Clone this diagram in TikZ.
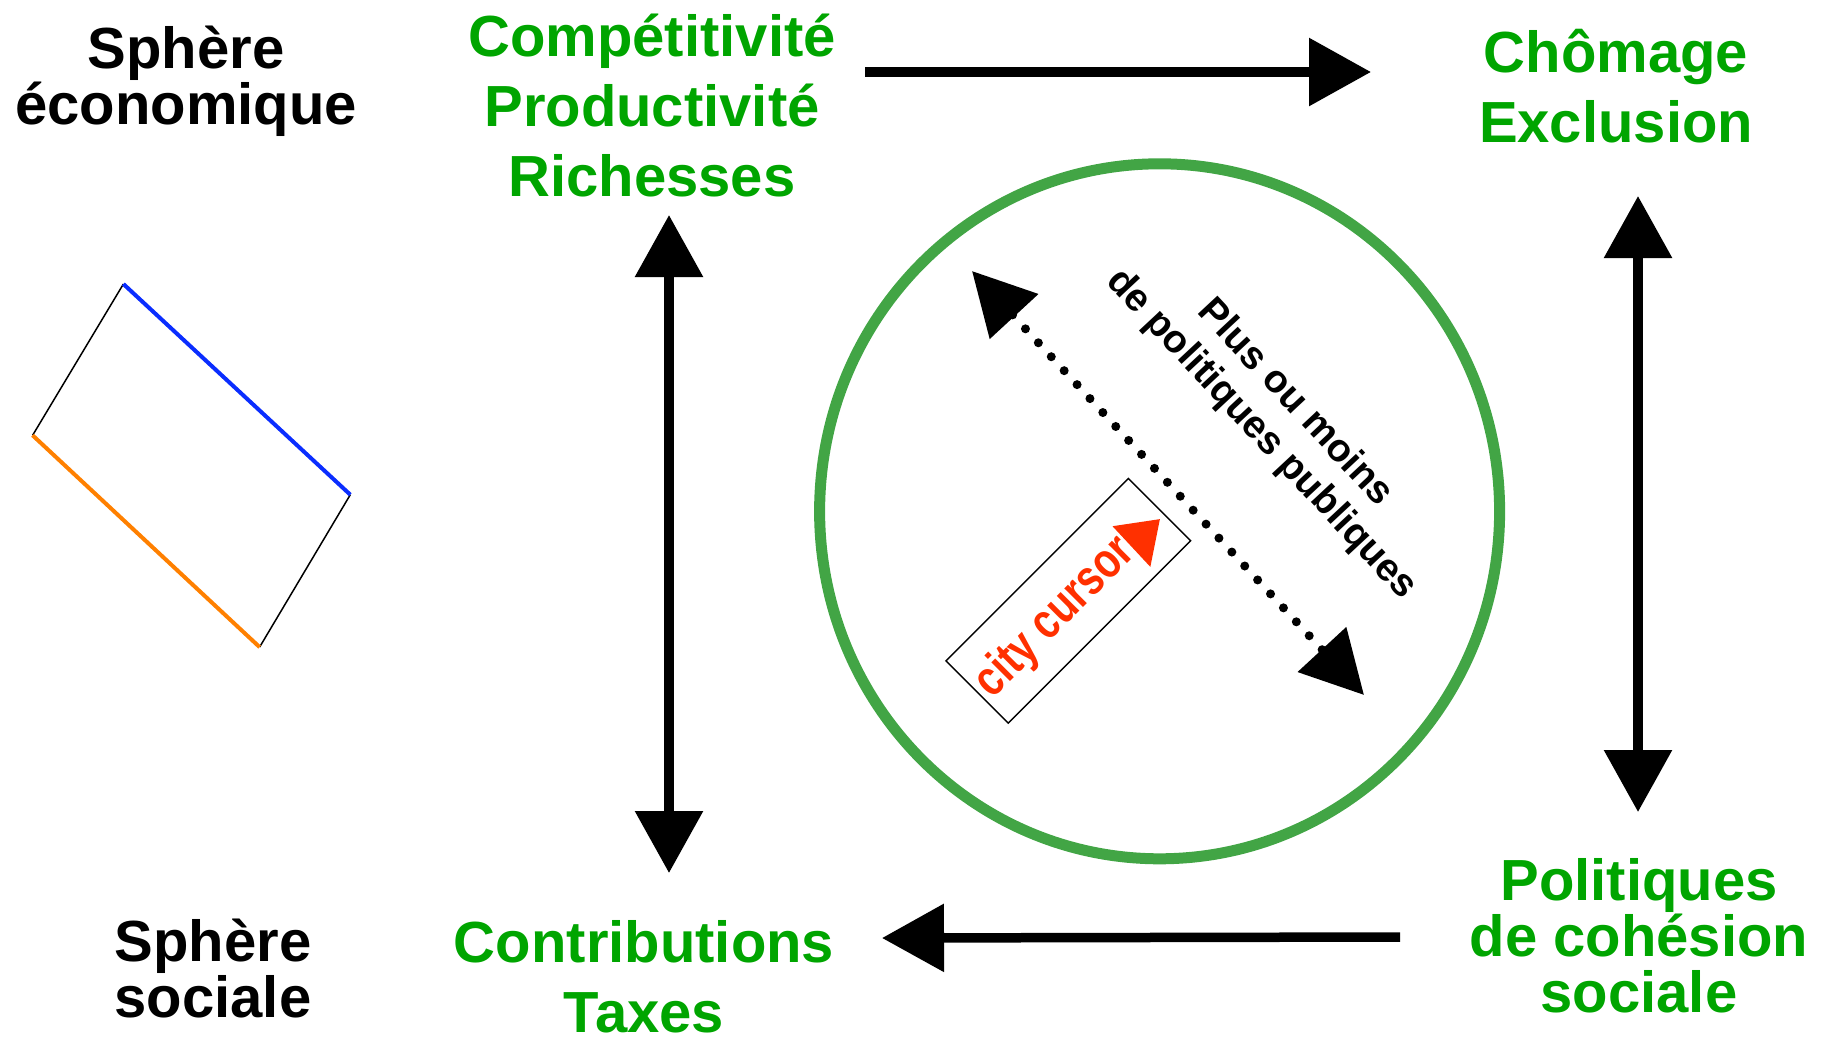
\documentclass[tikz,border=0pt]{standalone}
\usepackage{fontspec}
\setmainfont{Liberation Sans}
\newfontfamily\narrowsans[FakeStretch=0.8]{Liberation Sans}
\usetikzlibrary{arrows.meta,calc}
\definecolor{tgreen}{RGB}{0,165,0}
\definecolor{cgreen}{RGB}{66,165,69}
\definecolor{lblue}{RGB}{10,45,255}
\definecolor{lorange}{RGB}{255,128,0}
\definecolor{cred}{RGB}{255,48,0}
\begin{document}
\begin{tikzpicture}[x=1pt,y=-1pt,
  big/.style={font=\bfseries\fontsize{58}{70}\selectfont, align=center, inner sep=0pt},
  tight/.style={font=\bfseries\fontsize{58}{56}\selectfont},
  gtext/.style={big, text=tgreen},
  btext/.style={big, text=black},
  conn/.style={line width=9.5pt, -{Triangle[length=62pt,width=66pt]}},
  biconn/.style={line width=9.5pt, {Triangle[length=62pt,width=66pt]}-{Triangle[length=62pt,width=66pt]}},
  dotconn/.style={line width=9pt, line cap=round, dash pattern=on 0pt off 19pt, {Triangle[length=62pt,width=64pt]}-{Triangle[length=62pt,width=64pt]}},
  thinedge/.style={line width=1.5pt, black},
  coloredge/.style={line width=4pt},
]
\useasboundingbox (0,0) rectangle (1825,1037);

% texts
\node[btext, tight] (ecosph) at (186,81) {Sphère\\économique};
\node[gtext] (compet) at (652,106) {Compétitivité\\Productivité\\Richesses};
\node[gtext] (chom) at (1616,86) {Chômage\\Exclusion};
\node[btext, tight] (socsph) at (213,968) {Sphère\\sociale};
\node[gtext] (contrib) at (644,977) {Contributions\\Taxes};
\node[gtext, tight] (polit) at (1639,936) {Politiques\\de cohésion\\sociale};

% arrow end points
\coordinate (a1s) at (865,72);
\coordinate (a1e) at (1371,72);
\coordinate (a2s) at (669,215);
\coordinate (a2e) at (669,873);
\coordinate (a3s) at (1638,196);
\coordinate (a3e) at (1638,812);
\coordinate (a4s) at (1400,937);
\coordinate (a4e) at (882,938);

\draw[conn] (a1s) -- (a1e);
\draw[biconn] (a2s) -- (a2e);
\draw[biconn] (a3s) -- (a3e);
\draw[conn] (a4s) -- (a4e);

% ring
\coordinate (ringc) at (1159.6,511.3);
\draw[cgreen, line width=11pt] (ringc) ellipse [x radius=340pt, y radius=347.5pt];

% dotted arrow
\coordinate (d1) at (972,271);
\coordinate (d2) at (1364,695);
\draw[dotconn] (d1) -- (d2);

\node[font=\bfseries\fontsize{39}{46}\selectfont, align=center, rotate=-47, inner sep=0pt] (plus) at (1278,419) {Plus ou moins\\de politiques publiques};

% city cursor
\begin{scope}[shift={(1068.3,600.8)}, rotate=45, transform shape]
  \node[draw, line width=1.5pt, minimum width=258pt, minimum height=88pt, inner sep=0pt] (ccbox) at (0pt,0pt) {};
  \node[text=cred, font=\narrowsans\bfseries\fontsize{50}{54}\selectfont, inner sep=0pt] (cctext) at (-21pt,-3pt) {city cursor};
  \fill[cred] (84pt,21.5pt) -- (122.5pt,-7pt) -- (82pt,-34pt) -- cycle;
\end{scope}

% rotated rectangle
\coordinate (rt) at (123.4,284);
\coordinate (rr) at (350.3,494.7);
\coordinate (rb) at (259.6,647.1);
\coordinate (rl) at (32.6,435.3);
\draw[thinedge] (rl) -- (rt);
\draw[thinedge] (rr) -- (rb);
\draw[coloredge, lblue] (rt) -- (rr);
\draw[coloredge, lorange] (rl) -- (rb);
\end{tikzpicture}
\end{document}
